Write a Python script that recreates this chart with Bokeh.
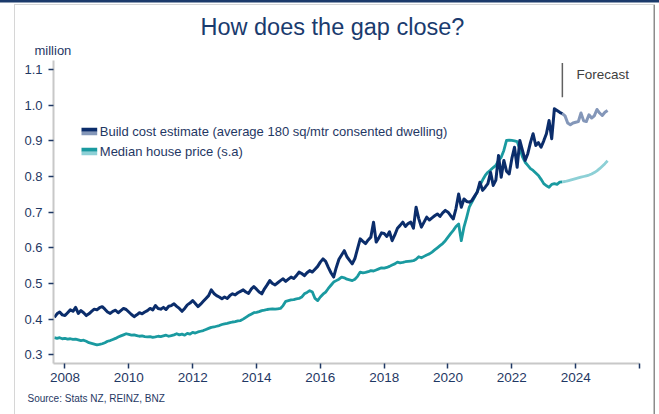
from bokeh.plotting import figure
from bokeh.models import FixedTicker, PrintfTickFormatter, Label, BoxAnnotation, Title
from bokeh.embed import file_html
from bokeh.resources import INLINE

# ---------------- data ----------------
START_YEAR, START_MONTH = 2007, 9   # first monthly observation: Sep 2007

build_cost = [
    0.405, 0.415, 0.420, 0.412,
    0.410, 0.418, 0.426, 0.422, 0.433, 0.416, 0.424, 0.418, 0.410, 0.415, 0.422, 0.428,
    0.426, 0.432, 0.435, 0.428, 0.420, 0.416, 0.422, 0.425, 0.418, 0.424, 0.430, 0.427,
    0.420, 0.413, 0.407, 0.412, 0.418, 0.415, 0.420, 0.424, 0.430, 0.426, 0.438, 0.430,
    0.428, 0.433, 0.427, 0.436, 0.438, 0.443, 0.436, 0.430, 0.422, 0.430, 0.440, 0.445,
    0.452, 0.444, 0.435, 0.442, 0.450, 0.458, 0.466, 0.482, 0.472, 0.466, 0.462, 0.457,
    0.462, 0.458, 0.466, 0.471, 0.468, 0.474, 0.478, 0.482, 0.476, 0.472, 0.484, 0.491,
    0.484, 0.476, 0.471, 0.485, 0.496, 0.508, 0.500, 0.496, 0.502, 0.508, 0.513, 0.506,
    0.512, 0.518, 0.514, 0.522, 0.532, 0.528, 0.522, 0.530, 0.536, 0.532, 0.540, 0.548,
    0.560, 0.569, 0.562, 0.545, 0.530, 0.518, 0.545, 0.568, 0.580, 0.592, 0.575, 0.565,
    0.555, 0.570, 0.598, 0.625, 0.618, 0.612, 0.622, 0.630, 0.672, 0.616, 0.628, 0.642,
    0.640, 0.632, 0.645, 0.620, 0.636, 0.655, 0.663, 0.672, 0.660, 0.668, 0.672, 0.655,
    0.714, 0.682, 0.658, 0.672, 0.686, 0.678, 0.684, 0.690, 0.695, 0.688, 0.698, 0.705,
    0.700, 0.690, 0.681, 0.710, 0.751, 0.714, 0.737, 0.730, 0.728, 0.733, 0.745, 0.756,
    0.784, 0.761, 0.770, 0.780, 0.812, 0.775, 0.790, 0.859, 0.798, 0.845, 0.815, 0.807,
    0.850, 0.882, 0.826, 0.901, 0.873, 0.845, 0.864, 0.895, 0.920, 0.887, 0.895, 0.882,
    0.900, 0.920, 0.957, 0.906, 0.990, 0.985, 0.980, 0.976,
]

house_price = [
    0.348, 0.346, 0.348, 0.345,
    0.346, 0.344, 0.345, 0.343, 0.344, 0.342, 0.340, 0.341, 0.338, 0.334, 0.332, 0.330,
    0.328, 0.329, 0.331, 0.334, 0.338, 0.340, 0.343, 0.346, 0.350, 0.353, 0.356, 0.359,
    0.357, 0.355, 0.356, 0.354, 0.352, 0.353, 0.351, 0.350, 0.351, 0.349, 0.350, 0.352,
    0.351, 0.353, 0.355, 0.352, 0.354, 0.356, 0.359, 0.356, 0.358, 0.355, 0.360, 0.358,
    0.363, 0.361, 0.364, 0.366, 0.368, 0.371, 0.374, 0.377, 0.378, 0.380, 0.382, 0.385,
    0.387, 0.388, 0.390, 0.392, 0.393, 0.395, 0.396, 0.400, 0.405, 0.410, 0.414, 0.418,
    0.419, 0.421, 0.424, 0.425, 0.427, 0.428, 0.429, 0.428, 0.429, 0.430, 0.438, 0.450,
    0.452, 0.454, 0.455, 0.457, 0.458, 0.462, 0.471, 0.475, 0.480, 0.476, 0.458, 0.452,
    0.462, 0.470, 0.476, 0.486, 0.495, 0.504, 0.508, 0.512, 0.518, 0.516, 0.512, 0.510,
    0.508, 0.512, 0.520, 0.532, 0.530, 0.531, 0.533, 0.536, 0.535, 0.538, 0.541, 0.544,
    0.543, 0.545, 0.548, 0.552, 0.555, 0.560, 0.558, 0.559, 0.561, 0.562, 0.563, 0.564,
    0.568, 0.575, 0.572, 0.576, 0.580, 0.583, 0.588, 0.594, 0.600, 0.606, 0.612, 0.620,
    0.630, 0.640, 0.649, 0.660, 0.667, 0.620, 0.658, 0.685, 0.714, 0.728, 0.742, 0.758,
    0.775, 0.790, 0.803, 0.812, 0.818, 0.825, 0.831, 0.845, 0.854, 0.873, 0.901, 0.902,
    0.901, 0.900, 0.898, 0.878, 0.855, 0.840, 0.831, 0.822, 0.817, 0.810, 0.803, 0.792,
    0.780, 0.774, 0.770, 0.778, 0.780, 0.778, 0.784, 0.785,
]

# forecasts start at the last actual month (Aug 2023)
FORECAST_OFFSET = 191
build_cost_forecast = [0.976, 0.970, 0.950, 0.945, 0.950, 0.952, 0.954, 0.978, 0.956,
                       0.954, 0.973, 0.964, 0.970, 0.988, 0.978, 0.971, 0.980, 0.985]
house_price_forecast = [0.785, 0.786, 0.788, 0.790, 0.792, 0.794, 0.796, 0.798, 0.800,
                        0.802, 0.804, 0.807, 0.811, 0.816, 0.822, 0.829, 0.836, 0.844]

x_ticks = [2008, 2010, 2012, 2014, 2016, 2018, 2020, 2022, 2024, 2026]
x_tick_labels = {2008: "2008", 2010: "2010", 2012: "2012", 2014: "2014", 2016: "2016",
                 2018: "2018", 2020: "2020", 2022: "2022", 2024: "2024", 2026: ""}
y_ticks = [0.3, 0.4, 0.5, 0.6, 0.7, 0.8, 0.9, 1.0, 1.1]

series_names = ["Build cost estimate (average 180 sq/mtr consented dwelling)",
                "Median house price (s.a)"]
title_text = "How does the gap close?"
unit_text = "million"
source_text = "Source: Stats NZ, REINZ, BNZ"
forecast_text = "Forecast"
forecast_marker_y = (1.022, 1.118)

# ---------------- styling ----------------
FONT = "Liberation Sans"
NAVY = "#0b2d6b"
NAVY_LIGHT = "#8497b9"
TEAL = "#1a9aa0"
TEAL_LIGHT = "#8dd0d6"
TEXT = "#1f3864"

W, H = 659, 414
FL, FR, FT, FB = 53, 639, 60, 363          # plot frame in pixels
X0, X1 = 2007.64, 2026.0
Y0, Y1 = 0.2756, 1.1253


def months_x(n, offset=0):
    return [START_YEAR + (START_MONTH - 1 + offset + i) / 12.0 for i in range(n)]


def dx(px):
    return X0 + (px - FL) * (X1 - X0) / (FR - FL)


def dy(py):
    return Y0 + (FB - py) * (Y1 - Y0) / (FB - FT)


p = figure(width=W, height=H, x_range=(X0, X1), y_range=(Y0, Y1),
           output_backend="svg", toolbar_location=None, title=None,
           min_border_left=FL, min_border_right=W - FR, min_border_top=FT,
           min_border_bottom=H - FB)
p.outline_line_color = None
p.grid.grid_line_color = None
p.background_fill_color = "white"
p.border_fill_color = None
p.styles = {"box-shadow": ", ".join([
    "inset 0 2.5px 0 0 #1b3a6b",
    "inset 14px 0 0 0 #ffffff",
    "inset -4px 0 0 0 #ffffff",
    "inset 0 4px 0 0 #ffffff",
    "inset 0 5px 0 0 #d6d6d6",
    "inset 15px 0 0 0 #d6d6d6",
    "inset -5.5px 0 0 0 #8c8c8c",
])}

# lines
p.line(months_x(len(house_price)), house_price, line_color=TEAL, line_width=2.8, line_join="round")
p.line(months_x(len(house_price_forecast), FORECAST_OFFSET), house_price_forecast,
       line_color=TEAL_LIGHT, line_width=2.8, line_join="round")
p.line(months_x(len(build_cost)), build_cost, line_color=NAVY, line_width=3, line_join="round")
p.line(months_x(len(build_cost_forecast), FORECAST_OFFSET), build_cost_forecast,
       line_color=NAVY_LIGHT, line_width=3, line_join="round")

# forecast marker
fx = months_x(1, FORECAST_OFFSET)[0]
p.segment(x0=[fx], y0=[forecast_marker_y[0]], x1=[fx], y1=[forecast_marker_y[1]],
          line_color="#606060", line_width=1.5)
p.add_layout(Label(x=dx(576), y=dy(74), text=forecast_text, text_font=FONT,
                   text_font_size="13.5px", text_color="#404040", text_baseline="middle"))

# axes
for ax in (p.xaxis[0], p.yaxis[0]):
    ax.axis_line_color = "#c8c8c8"
    ax.axis_line_width = 2
    ax.major_tick_line_color = TEXT
    ax.major_tick_line_width = 1.5
    ax.major_tick_out = 5
    ax.major_tick_in = 0
    ax.minor_tick_line_color = None
    ax.major_label_text_color = TEXT
    ax.major_label_text_font = FONT

p.xaxis.ticker = FixedTicker(ticks=x_ticks)
p.xaxis.major_label_overrides = x_tick_labels
p.xaxis.major_label_text_font_size = "13.5px"
p.xaxis.major_label_standoff = 4
p.yaxis.ticker = FixedTicker(ticks=y_ticks)
p.yaxis.formatter = PrintfTickFormatter(format="%.1f")
p.yaxis.major_label_text_font_size = "13px"
p.yaxis.major_label_standoff = 6

# titles (panels around the frame)
p.add_layout(Title(text=unit_text, align="left", offset=34 - FL, standoff=4.4,
                   text_font=FONT, text_font_size="13px", text_font_style="normal",
                   text_color=TEXT), "above")
p.add_layout(Title(text=title_text, align="left", offset=200 - FL, standoff=0,
                   text_font=FONT, text_font_size="23.5px", text_font_style="normal",
                   text_color="#1a3b6e"), "above")
p.add_layout(Title(text=source_text, align="left", offset=27 - FL, standoff=17,
                   vertical_align="top", text_font=FONT, text_font_size="10px",
                   text_font_style="normal", text_color=TEXT), "below")

# legend (drawn inside the frame)
legend_rows = [(131.2, NAVY, NAVY_LIGHT, series_names[0]),
               (151.2, TEAL, TEAL_LIGHT, series_names[1])]
for yc, c1, c2, name in legend_rows:
    p.add_layout(BoxAnnotation(left=dx(81), right=dx(96.7), top=dy(yc - 4), bottom=dy(yc),
                               fill_color=c1, fill_alpha=1, line_color=None))
    p.add_layout(BoxAnnotation(left=dx(81), right=dx(96.7), top=dy(yc), bottom=dy(yc + 3.6),
                               fill_color=c2, fill_alpha=1, line_color=None))
    p.add_layout(Label(x=dx(99.3), y=dy(yc), text=name, text_font=FONT, text_font_size="13px",
                       text_color=TEXT, text_baseline="middle"))

open("out.html", "w").write(file_html(p, INLINE))
